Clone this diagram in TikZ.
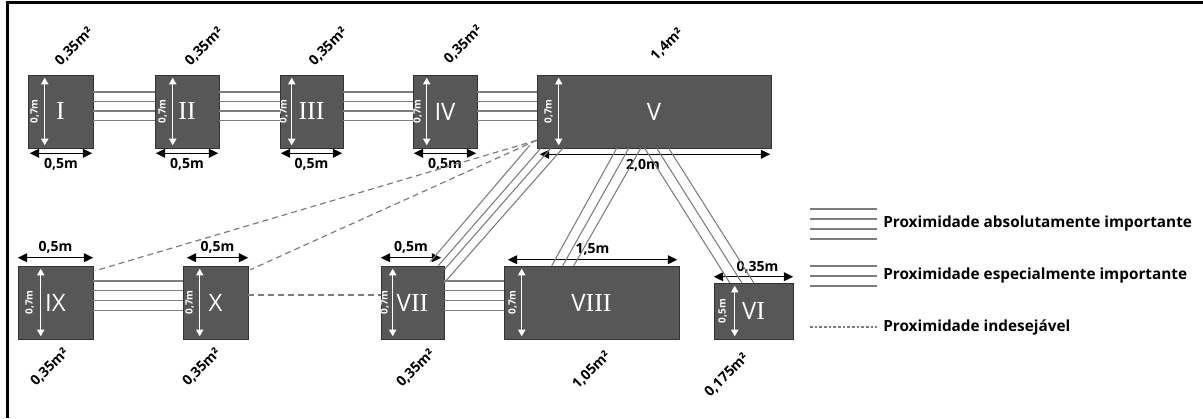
\documentclass[tikz,border=0pt]{standalone}
\usepackage{fontspec}
\setmainfont{Open Sans}
\newfontfamily\serifI[Scale=1.08]{Liberation Serif}
\usepackage{tikz}
\usetikzlibrary{calc,arrows.meta}

\newcommand{\pxu}{0.75pt}
\newcommand{\ri}{{\serifI I}}
\newcommand{\tilt}[1]{\rotatebox{45}{#1}}
\definecolor{roomgray}{RGB}{87,87,87}
\definecolor{linkgray}{RGB}{125,125,125}

\begin{document}
\begin{tikzpicture}[x=0.75pt, y=-0.75pt,
  room/.style={draw=black!80, fill=roomgray, text=white, inner sep=0pt, font=\fontsize{18}{18}\selectfont},
  rel/.style={draw=linkgray, line width=0.8pt},
  avoid/.style={draw=linkgray, line width=0.9pt, dash pattern=on 4.5pt off 3pt},
  sidedim/.style={white, line width=0.9pt, {Triangle[width=5.5pt,length=5pt]}-{Triangle[width=5.5pt,length=5pt]}},
  sidelbl/.style={white, rotate=90, inner sep=0pt, font=\fontsize{7.5}{7.5}\selectfont\bfseries},
  widthdim/.style={black, line width=1pt, {Triangle[width=6.5pt,length=7pt]}-{Triangle[width=6.5pt,length=7pt]}},
  widthlbl/.style={inner sep=0pt, font=\fontsize{10.5}{10.5}\selectfont\bfseries},
  arealbl/.style={inner sep=0pt, font=\fontsize{10.5}{10.5}\selectfont\bfseries},
  legtext/.style={anchor=west, inner sep=0pt, font=\fontsize{11.5}{11.5}\selectfont\bfseries}]
  \useasboundingbox (0,0) rectangle (1203,418);
  % Frame
  \draw[line width=2.25pt] (7.5,418) -- (7.5,2.5) -- (1203,2.5);

  % Top row of rooms
  \node[room, minimum width=65*\pxu, minimum height=73*\pxu] (I) at (60.5,111.5) {\ri};
  \node[room, minimum width=64*\pxu, minimum height=73*\pxu] (II) at (187,111.5) {\ri\ri};
  \node[room, minimum width=63*\pxu, minimum height=73*\pxu] (III) at (311.5,111.5) {\ri\ri\ri};
  \node[room, minimum width=64*\pxu, minimum height=73*\pxu] (IV) at (445,111.5) {IV};
  \node[room, minimum width=234*\pxu, minimum height=73*\pxu] (V) at (654,111.5) {V};
  % Bottom row of rooms
  \node[room, minimum width=75*\pxu, minimum height=73*\pxu] (IX) at (55.5,302.5) {IX};
  \node[room, minimum width=65*\pxu, minimum height=73*\pxu] (X) at (215.5,302.5) {X};
  \node[room, minimum width=63*\pxu, minimum height=73*\pxu] (VII) at (412.5,302.5) {V\ri\ri};
  \node[room, minimum width=175*\pxu, minimum height=73*\pxu] (VIII) at (591.5,302.5) {V\ri\ri\ri};
  \node[room, minimum width=79*\pxu, minimum height=56*\pxu] (VI) at (753.5,311) {V\ri};

  % Heights (white arrows inside the rooms)
  \draw[sidedim] ($(I.north west)+(17,3)$) -- ($(I.south west)+(17,-3)$);
  \node[sidelbl] (hI) at ($(I.west)+(7,0)$) {0,7m};
  \draw[sidedim] ($(II.north west)+(18,3)$) -- ($(II.south west)+(18,-3)$);
  \node[sidelbl] (hII) at ($(II.west)+(8,0)$) {0,7m};
  \draw[sidedim] ($(III.north west)+(12,3)$) -- ($(III.south west)+(12,-3)$);
  \node[sidelbl] (hIII) at ($(III.west)+(4,0)$) {0,7m};
  \draw[sidedim] ($(IV.north west)+(14,3)$) -- ($(IV.south west)+(14,-3)$);
  \node[sidelbl] (hIV) at ($(IV.west)+(5,0)$) {0,7m};
  \draw[sidedim] ($(V.north west)+(22,3)$) -- ($(V.south west)+(22,-3)$);
  \node[sidelbl] (hV) at ($(V.west)+(12,0)$) {0,7m};
  \draw[sidedim] ($(IX.north west)+(23,3)$) -- ($(IX.south west)+(23,-3)$);
  \node[sidelbl] (hIX) at ($(IX.west)+(12,0)$) {0,7m};
  \draw[sidedim] ($(X.north west)+(17,3)$) -- ($(X.south west)+(17,-3)$);
  \node[sidelbl] (hX) at ($(X.west)+(7,0)$) {0,7m};
  \draw[sidedim] ($(VII.north west)+(12,3)$) -- ($(VII.south west)+(12,-3)$);
  \node[sidelbl] (hVII) at ($(VII.west)+(4,0)$) {0,7m};
  \draw[sidedim] ($(VIII.north west)+(18,3)$) -- ($(VIII.south west)+(18,-3)$);
  \node[sidelbl] (hVIII) at ($(VIII.west)+(9,0)$) {0,7m};
  \draw[sidedim] ($(VI.north west)+(21,3)$) -- ($(VI.south west)+(21,-3)$);
  \node[sidelbl] (hVI) at ($(VI.west)+(9,0)$) {0,5m};

  % Widths (black arrows)
  \draw[widthdim] ($(I.south west)+(2,5)$) -- ($(I.south east)+(-1,5)$)
    node[widthlbl, midway, below=3pt] (wI) {0,5m};
  \draw[widthdim] ($(II.south west)+(1,5)$) -- ($(II.south east)+(-1,5)$)
    node[widthlbl, midway, below=3pt] (wII) {0,5m};
  \draw[widthdim] ($(III.south west)+(1,5)$) -- ($(III.south east)+(-1,5)$)
    node[widthlbl, midway, below=3pt] (wIII) {0,5m};
  \draw[widthdim] ($(IV.south west)+(1,5)$) -- ($(IV.south east)+(-1,5)$)
    node[widthlbl, midway, below=3pt] (wIV) {0,5m};
  \draw[widthdim] ($(V.south west)+(3,6)$) -- ($(V.south east)+(-1,6)$)
    node[widthlbl, midway, below=3pt, xshift=-9pt] (wV) {2,0m};
  \draw[widthdim] ($(IX.north west)+(0,-8)$) -- ($(IX.north east)+(0,-8)$)
    node[widthlbl, midway, above=3pt] (wIX) {0,5m};
  \draw[widthdim] ($(X.north west)+(4,-8)$) -- ($(X.north east)+(0,-8)$)
    node[widthlbl, midway, above=3pt] (wX) {0,5m};
  \draw[widthdim] ($(VII.north west)+(0,-8)$) -- ($(VII.north east)+(-3,-8)$)
    node[widthlbl, midway, above=3pt] (wVII) {0,5m};
  \draw[widthdim] ($(VIII.north west)+(4,-6)$) -- ($(VIII.north east)+(-2,-6)$)
    node[widthlbl, midway, above=3pt] (wVIII) {1,5m};
  \draw[widthdim] ($(VI.north west)+(0,-6)$) -- ($(VI.north east)+(0,-6)$)
    node[widthlbl, midway, above=2pt, xshift=3pt] (wVI) {0,35m};

  % Areas
  \node[arealbl] (aI) at ($(I.north east)+(-19,-28)$) {\tilt{0,35m²}};
  \node[arealbl] (aII) at ($(II.north east)+(-15,-28)$) {\tilt{0,35m²}};
  \node[arealbl] (aIII) at ($(III.north east)+(-15,-28)$) {\tilt{0,35m²}};
  \node[arealbl] (aIV) at ($(IV.north east)+(-14,-30)$) {\tilt{0,35m²}};
  \node[arealbl] (aV) at ($(V.north)+(13,-30)$) {\tilt{1,4m²}};
  \node[arealbl] (aIX) at ($(IX.south west)+(32,28)$) {\tilt{0,35m²}};
  \node[arealbl] (aX) at ($(X.south west)+(19,28)$) {\tilt{0,35m²}};
  \node[arealbl] (aVII) at ($(VII.south west)+(35,29)$) {\tilt{0,35m²}};
  \node[arealbl] (aVIII) at ($(VIII.south)+(0,31)$) {\tilt{1,05m²}};
  \node[arealbl] (aVI) at ($(VI.south west)+(13,36)$) {\tilt{0,175m²}};

  % Proximities
  \foreach \dy in {-19.5,-10,-0.5,9} {
    \draw[rel] ($(I.east)+(0,\dy)$) -- ($(II.west)+(0,\dy)$);
    \draw[rel] ($(II.east)+(0,\dy)$) -- ($(III.west)+(0,\dy)$);
    \draw[rel] ($(III.east)+(0,\dy)$) -- ($(IV.west)+(0,\dy)$);
    \draw[rel] ($(IV.east)+(0,\dy)$) -- ($(V.west)+(0,\dy)$);
  }
  \foreach \dy in {-21.5,-12,-2,8} {
    \draw[rel] ($(IX.east)+(0,\dy)$) -- ($(X.west)+(0,\dy)$);
    \draw[rel] ($(VII.east)+(0,\dy)$) -- ($(VIII.west)+(0,\dy)$);
  }
  % V -- VII
  \draw[rel] ($(V.south west)+(-7,-3)$) -- ($(VII.north east)+(-14,-4)$);
  \draw[rel] ($(V.south west)+(4,0)$) -- ($(VII.north east)+(-6,0)$);
  \draw[rel] ($(V.south west)+(14,0)$) -- ($(VII.north east)+(0,4)$);
  \draw[rel] ($(V.south west)+(26,0)$) -- ($(VII.north east)+(0,17)$);
  % V -- VIII
  \draw[rel] ($(V.south west)+(80,0)$) -- ($(VIII.north west)+(48,0)$);
  \draw[rel] ($(V.south west)+(92,0)$) -- ($(VIII.north west)+(59,0)$);
  \draw[rel] ($(V.south west)+(104,0)$) -- ($(VIII.north west)+(70,0)$);
  % V -- VI
  \draw[rel] ($(V.south west)+(108,0)$) -- ($(VI.north west)+(16,0)$);
  \draw[rel] ($(V.south west)+(120,0)$) -- ($(VI.north west)+(28,0)$);
  \draw[rel] ($(V.south west)+(132,0)$) -- ($(VI.north west)+(40,0)$);
  % Undesirable
  \draw[avoid] ($(V.south west)+(0,-8)$) -- ($(IX.north east)+(2,5)$);
  \draw[avoid] ($(V.south west)+(0,-8)$) -- ($(X.north east)+(2,4)$);
  \draw[avoid] ($(X.east)+(0,-7.5)$) -- ($(VII.west)+(0,-7.5)$);

  % Legend
  \node[legtext] (legA) at (883,224) {Proximidade absolutamente importante};
  \node[legtext] (legE) at (883,276) {Proximidade especialmente importante};
  \node[legtext] (legI) at (883,327) {Proximidade indesejável};
  \foreach \dy in {-15,-5,5,15}
    \draw[rel] ($(legA.west)+(-73,\dy)$) -- ($(legA.west)+(-6,\dy)$);
  \foreach \dy in {-10,0,10}
    \draw[rel] ($(legE.west)+(-73,\dy)$) -- ($(legE.west)+(-6,\dy)$);
  \draw[rel, dash pattern=on 2pt off 1.5pt] ($(legI.west)+(-73,0)$) -- ($(legI.west)+(-6,0)$);
\end{tikzpicture}
\end{document}
